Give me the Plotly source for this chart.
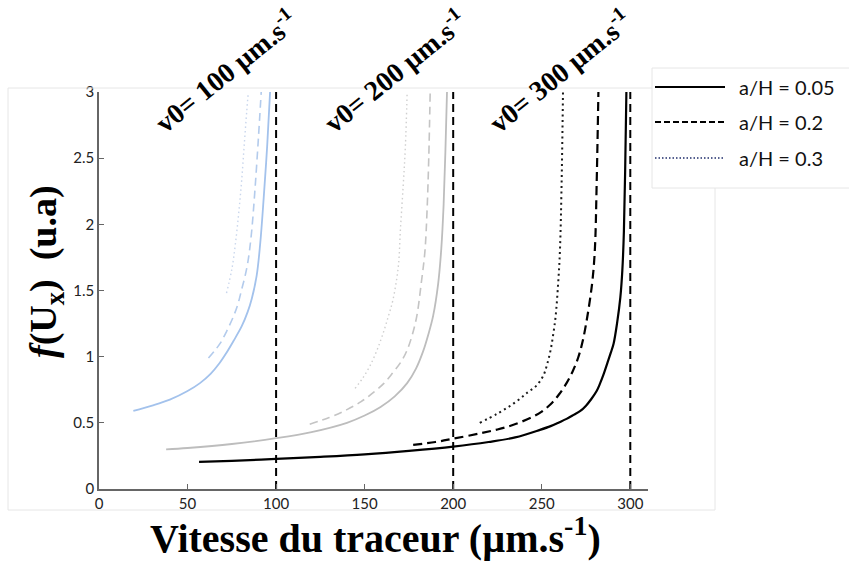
import plotly.graph_objects as go

# ---- data ----
# v0 = 100 (light blue)
v100_x_005 = [19.4, 30, 40, 50, 57, 63, 68, 72, 76, 80.6, 84, 86.3, 89, 91, 93, 95, 96.6]
v100_y_005 = [0.59, 0.63, 0.675, 0.74, 0.80, 0.87, 0.95, 1.03, 1.12, 1.23, 1.34, 1.44, 1.61, 1.85, 2.2, 2.6, 3.0]
v100_x_02 = [61.8, 65, 68.4, 72, 75.8, 78.5, 80.6, 82.5, 84, 86, 88, 90, 91.6]
v100_y_02 = [0.99, 1.04, 1.10, 1.19, 1.30, 1.40, 1.51, 1.61, 1.71, 1.92, 2.25, 2.65, 3.0]
v100_x_03 = [72, 75, 77, 79, 80.6, 82, 83.4, 84.3]
v100_y_03 = [1.48, 1.66, 1.85, 2.1, 2.34, 2.6, 2.85, 3.0]

# v0 = 200 (light grey)
v200_x_005 = [37.9, 50, 75, 100, 120, 140, 150, 159, 167, 174, 179, 183, 186, 188.7, 191.5, 193.3, 194.6, 195.6, 196.5]
v200_y_005 = [0.30, 0.31, 0.34, 0.384, 0.43, 0.50, 0.555, 0.62, 0.70, 0.80, 0.91, 1.04, 1.17, 1.31, 1.55, 1.82, 2.15, 2.55, 3.0]
v200_x_02 = [119, 130, 140, 148, 155, 161, 166, 170.5, 174, 177, 179.5, 182, 184, 185.2, 186.2, 187]
v200_y_02 = [0.49, 0.54, 0.60, 0.66, 0.73, 0.80, 0.88, 0.96, 1.05, 1.17, 1.31, 1.56, 1.79, 2.09, 2.5, 3.0]
v200_x_03 = [144.6, 149, 153, 157, 160.5, 163.5, 166, 169, 170.2, 171.8, 173, 174]
v200_y_03 = [0.76, 0.84, 0.93, 1.05, 1.18, 1.31, 1.43, 1.68, 1.96, 2.3, 2.59, 3.0]

# v0 = 300 (black)
v300_x_005 = [56.5, 75, 100, 125, 150, 175, 200, 220, 235, 249, 255, 260, 264, 268, 271.8, 275, 278, 281,
              283, 285, 287, 289, 290.6, 292.5, 294.4, 295.5, 296.4, 297.1, 297.8]
v300_y_005 = [0.205, 0.213, 0.227, 0.243, 0.262, 0.288, 0.32, 0.355, 0.39, 0.447, 0.475, 0.505, 0.53, 0.56, 0.59,
              0.63, 0.68, 0.74, 0.80, 0.87, 0.95, 1.03, 1.1, 1.25, 1.45, 1.65, 1.95, 2.4, 3.0]
v300_x_02 = [177.4, 190, 200, 215, 225, 234, 244, 250, 255, 259.5, 264, 267.5, 270.5, 273, 275.7, 278.5, 280, 281, 282]
v300_y_02 = [0.333, 0.355, 0.38, 0.42, 0.45, 0.485, 0.54, 0.585, 0.64, 0.71, 0.80, 0.89, 0.99, 1.11, 1.30, 1.56, 1.81, 2.3, 3.0]
v300_x_03 = [215, 225, 234, 241.6, 247.3, 251, 253, 255, 256.5, 257.8, 259.3, 260.3, 261.2, 262]
v300_y_03 = [0.50, 0.57, 0.645, 0.725, 0.785, 0.86, 0.94, 1.05, 1.17, 1.30, 1.56, 1.81, 2.3, 3.0]

v0_values = [100, 200, 300]
v0_labels = ["v0= 100 µm.s<sup>-1</sup>", "v0= 200 µm.s<sup>-1</sup>", "v0= 300 µm.s<sup>-1</sup>"]
legend_labels = ["a/H = 0.05", "a/H = 0.2", "a/H = 0.3"]
x_ticks = [0, 50, 100, 150, 200, 250, 300]
y_ticks = [0, 0.5, 1, 1.5, 2, 2.5, 3]

# plot area in window pixels
L, R, T, B = 99, 648, 92, 489
W, H = 849, 565


def px(xp):
    return (xp - L) / (R - L)


def py(yp):
    return (B - yp) / (B - T)


fig = go.Figure()

curves = [
    (v100_x_005, v100_y_005, "#a3c2ec", "solid", 1.8),
    (v100_x_02, v100_y_02, "#b3cbec", "8px,5px", 1.6),
    (v100_x_03, v100_y_03, "#c9d6ec", "1.5px,3px", 1.4),
    (v200_x_005, v200_y_005, "#bdbdbd", "solid", 1.8),
    (v200_x_02, v200_y_02, "#c4c4c4", "8px,5px", 1.6),
    (v200_x_03, v200_y_03, "#cfcfcf", "1.5px,3px", 1.4),
    (v300_x_005, v300_y_005, "#000000", "solid", 2.2),
    (v300_x_02, v300_y_02, "#000000", "9px,5px", 2.2),
    (v300_x_03, v300_y_03, "#1a1a1a", "2px,3.5px", 2.0),
]
for xs, ys, col, dash, w in curves:
    fig.add_trace(go.Scatter(x=xs, y=ys, mode="lines", showlegend=False,
                             line=dict(color=col, dash=dash, width=w,
                                       shape="spline", smoothing=1.0),
                             hoverinfo="skip"))

# asymptotes at v0
for v in v0_values:
    fig.add_trace(go.Scatter(x=[v, v], y=[0, 3], mode="lines", showlegend=False,
                             line=dict(color="black", dash="8px,5px", width=2),
                             hoverinfo="skip"))

shapes = []
annotations = []

# faint frame of the pasted picture
frame_col = "#e6e6e6"
for x0, y0, x1, y1 in [(8, 88, 652, 88), (8, 88, 8, 510), (8, 510, 715, 510),
                       (715, 188, 715, 510), (652, 68, 652, 188), (652, 68, 849, 68),
                       (652, 188, 849, 188)]:
    shapes.append(dict(type="line", xref="paper", yref="paper",
                       x0=px(x0), y0=py(y0), x1=px(x1), y1=py(y1),
                       line=dict(color=frame_col, width=1)))

# manual legend
leg_y = [87, 122, 158]
leg_style = [("black", "solid", 2), ("black", "6px,3px", 2), ("#1f2d6b", "1.5px,2px", 1.6)]
for yy, (col, dash, w), lab in zip(leg_y, leg_style, legend_labels):
    shapes.append(dict(type="line", xref="paper", yref="paper",
                       x0=px(655), x1=px(725), y0=py(yy), y1=py(yy),
                       line=dict(color=col, dash=dash, width=w)))
    annotations.append(dict(x=px(737), y=py(yy), xref="paper", yref="paper",
                            text=lab, showarrow=False, xanchor="left", yanchor="middle",
                            font=dict(family="Lato", size=20, color="#111")))

# rotated v0 labels
for cx, lab in zip([226, 395, 560], v0_labels):
    annotations.append(dict(x=px(cx), y=py(71), xref="paper", yref="paper",
                            text="<b>" + lab + "</b>", showarrow=False, textangle=-39,
                            xanchor="center", yanchor="middle",
                            font=dict(family="Liberation Serif", size=28, color="black")))

# axis titles
annotations.append(dict(x=px(375), y=py(535), xref="paper", yref="paper",
                        text="<b>Vitesse du traceur (µm.s<sup>-1</sup>)</b>",
                        showarrow=False, xanchor="center", yanchor="middle",
                        font=dict(family="Liberation Serif", size=40, color="black")))
annotations.append(dict(x=px(46), y=py(272), xref="paper", yref="paper",
                        text="<b><i>f</i>(U<sub>x</sub>)&nbsp;&nbsp;(u.a)</b>",
                        showarrow=False, textangle=-90, xanchor="center", yanchor="middle",
                        font=dict(family="Liberation Serif", size=38, color="black")))

axis_common = dict(showline=True, linecolor="#666", linewidth=1.5, ticks="inside",
                   ticklen=5, tickcolor="#666", showgrid=False, zeroline=False,
                   tickfont=dict(family="Lato", size=15, color="#222"), mirror=False)

fig.update_layout(
    width=W, height=H,
    margin=dict(l=L, r=W - R, t=T, b=H - B),
    plot_bgcolor="white", paper_bgcolor="white",
    xaxis=dict(range=[0, 310], tickvals=x_ticks, **axis_common),
    yaxis=dict(range=[0, 3], tickvals=y_ticks, ticktext=[str(t) for t in y_ticks], **axis_common),
    shapes=shapes, annotations=annotations,
)

# drop the default 8px body margin so the figure fills the window
fig.write_html("out.html", config={"displayModeBar": False},
               post_script="document.body.style.margin='0';")
